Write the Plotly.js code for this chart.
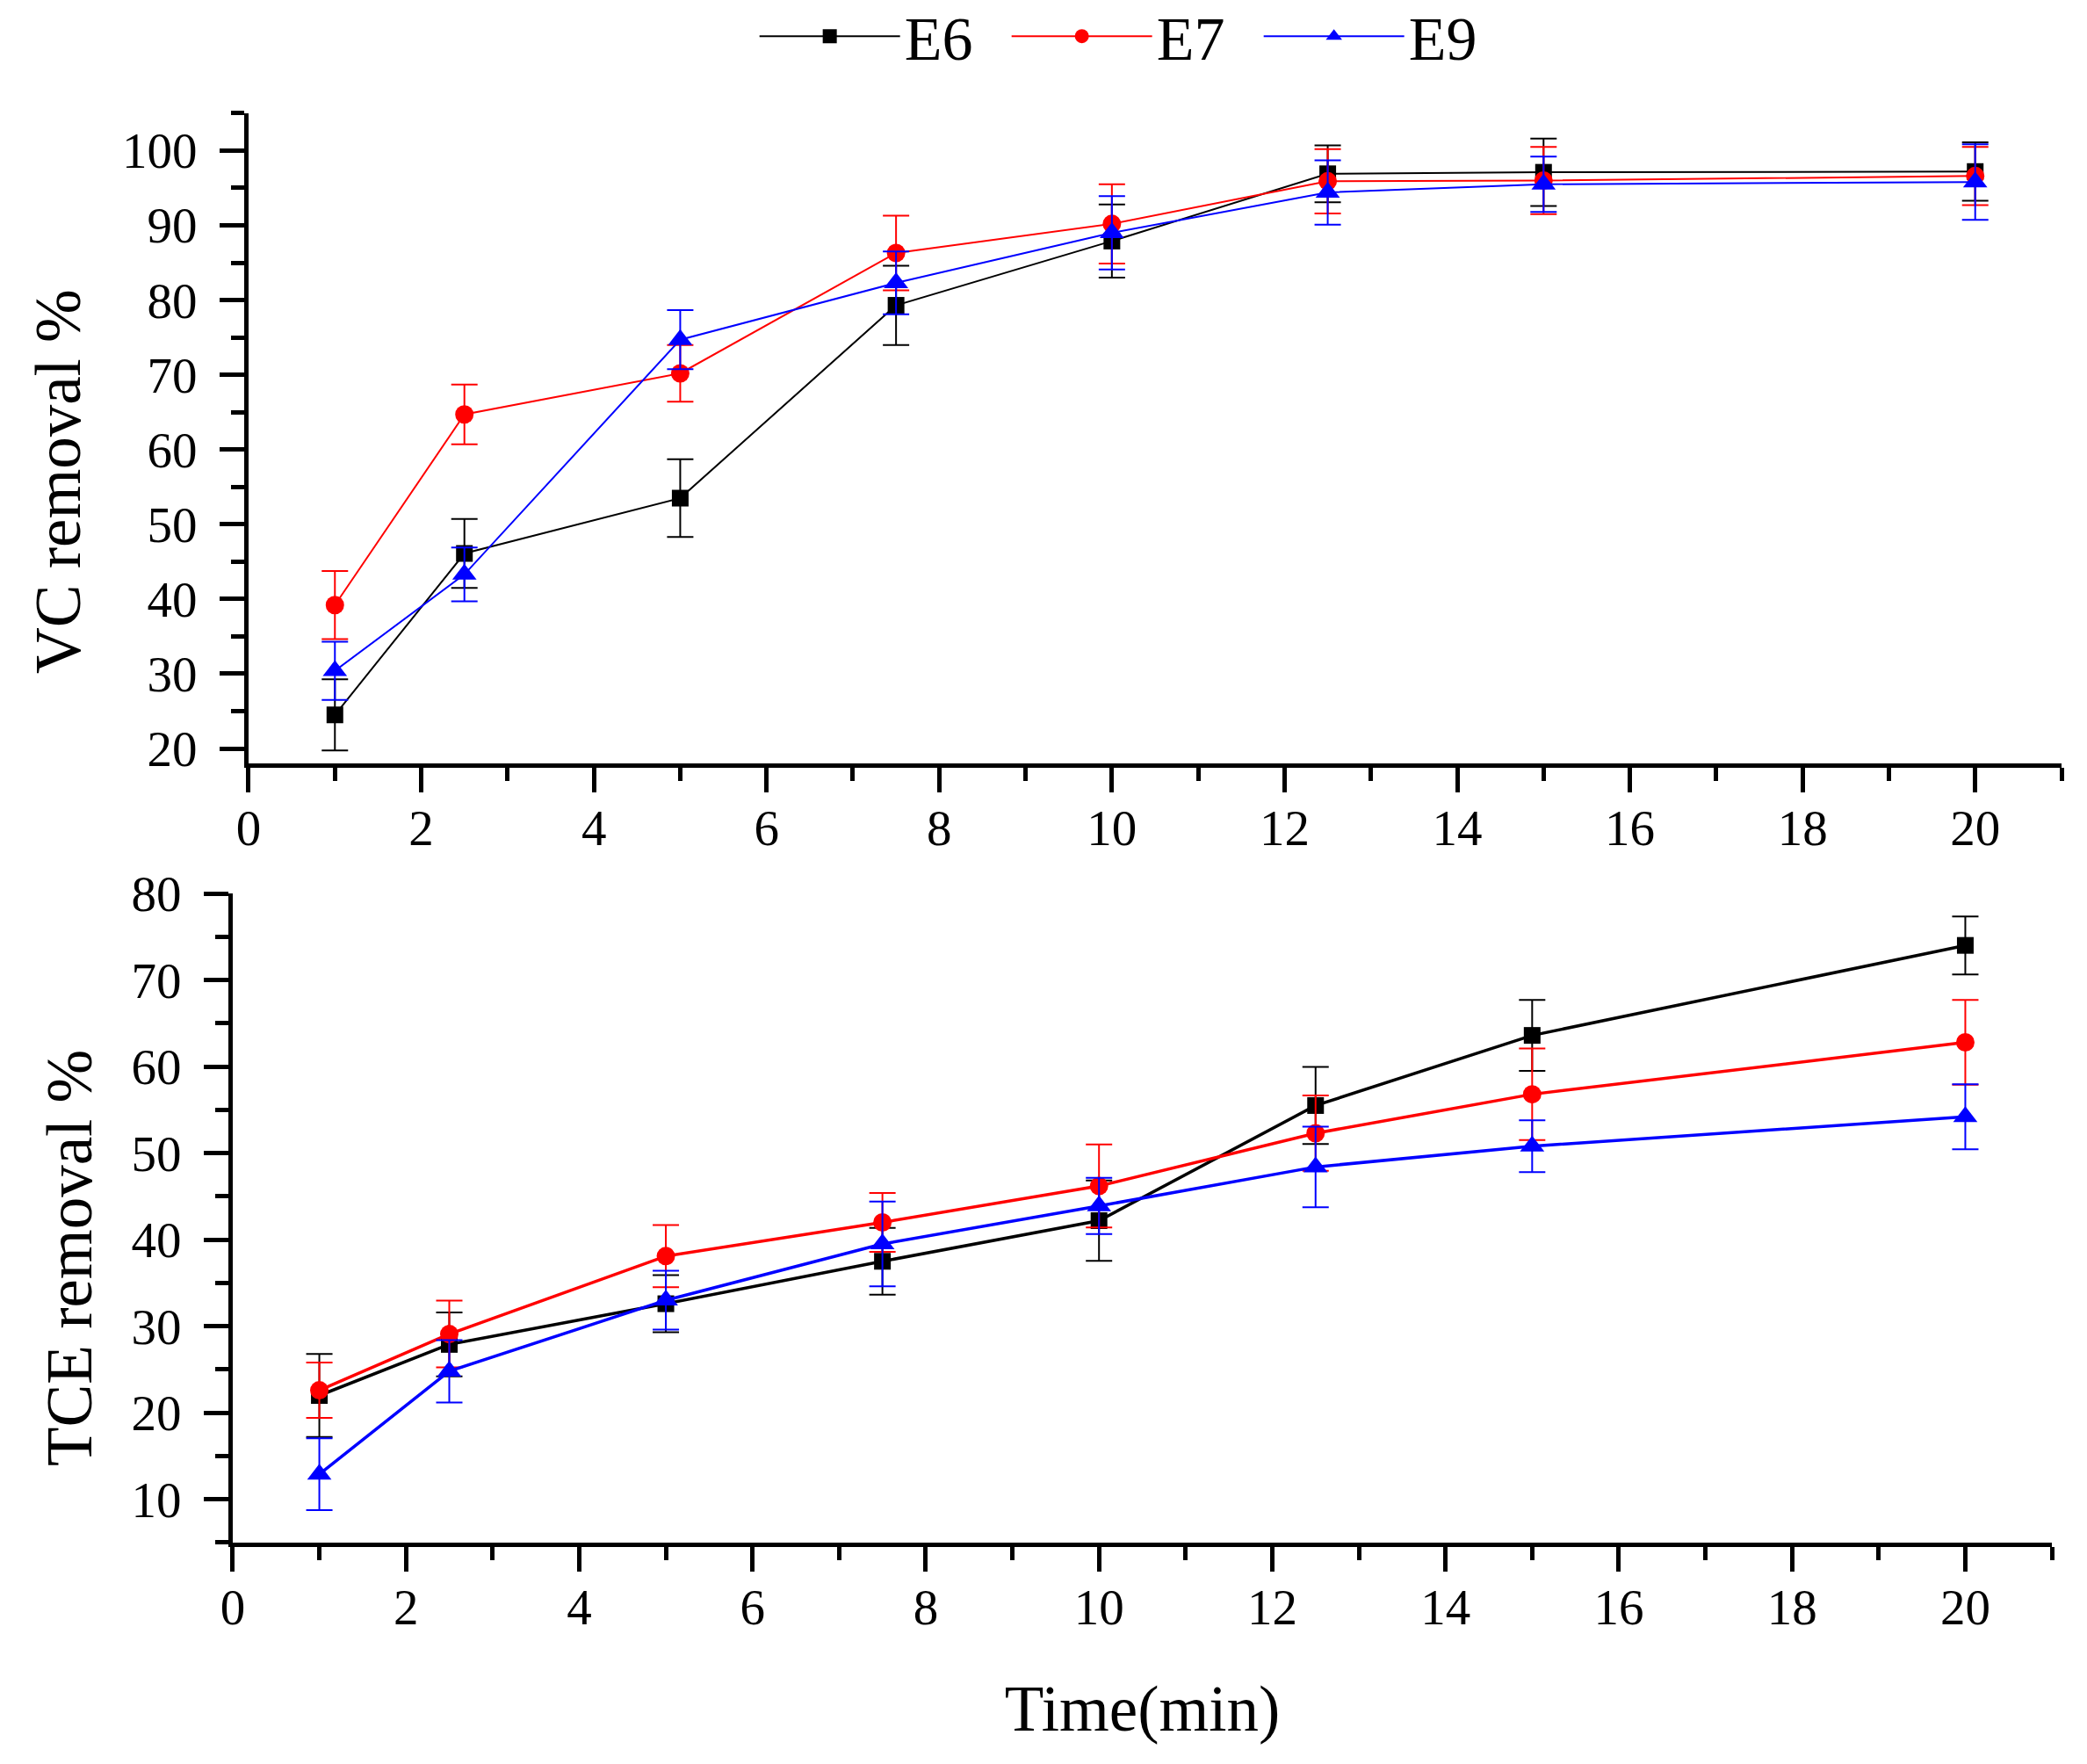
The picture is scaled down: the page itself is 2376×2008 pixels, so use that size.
<!DOCTYPE html>
<html>
<head>
<meta charset="utf-8">
<script src="https://cdn.plot.ly/plotly-3.0.1.min.js"></script>
<style>
  html, body { margin: 0; padding: 0; background: #fff; }
  #chart { width: 2376px; height: 2008px; }
</style>
</head>
<body>
<div id="chart"></div>
<script>
// sampling times (min)
var time = [1, 2.5, 5, 7.5, 10, 12.5, 15, 20];

// VC removal %
var vcE6 = [24.5, 46.1, 53.5, 79.3, 87.9, 96.9, 97.1, 97.2];
var vcE6Err = [4.75, 4.6, 5.2, 5.3, 4.9, 3.8, 4.5, 3.9];
var vcE7 = [39.2, 64.7, 70.2, 86.3, 90.2, 95.9, 96.0, 96.6];
var vcE7Err = [4.55, 4.0, 3.8, 5.0, 5.3, 4.3, 4.5, 3.9];
var vcE9 = [30.4, 43.3, 74.7, 82.3, 89.0, 94.4, 95.5, 95.8];
var vcE9Err = [3.9, 3.6, 3.95, 4.2, 4.9, 4.3, 3.7, 5.05];

// TCE removal %
var tceE6 = [22.0, 27.9, 32.6, 37.5, 42.2, 55.5, 63.6, 74.0];
var tceE6Err = [4.8, 3.7, 3.3, 3.85, 4.65, 4.45, 4.1, 3.35];
var tceE7 = [22.6, 29.1, 38.1, 42.0, 46.2, 52.3, 56.8, 62.8];
var tceE7Err = [3.2, 3.85, 3.6, 3.4, 4.8, 4.35, 5.3, 4.9];
var tceE9 = [12.9, 24.8, 33.0, 39.5, 43.9, 48.4, 50.8, 54.2];
var tceE9Err = [4.15, 3.6, 3.4, 4.9, 3.25, 4.65, 3.0, 3.75];

var names = ['E6', 'E7', 'E9'];
var colors = ['#000000', '#ff0000', '#0000ff'];
var symbols = ['square', 'circle', 'triangle-up'];
var sizes = [19, 21, 24];

var FONT = '"Liberation Serif", serif';

function series(i, y, err, xa, ya, lw, legend) {
  return {
    x: time, y: y,
    xaxis: xa, yaxis: ya,
    name: names[i],
    mode: 'lines+markers',
    showlegend: legend,
    line: {color: colors[i], width: lw},
    marker: {symbol: symbols[i], size: sizes[i], color: colors[i]},
    error_y: {type: 'data', array: err, visible: true,
              color: colors[i], thickness: 2, width: 15}
  };
}

var data = [
  series(0, vcE6, vcE6Err, 'x', 'y', 2, true),
  series(1, vcE7, vcE7Err, 'x', 'y', 2, true),
  series(2, vcE9, vcE9Err, 'x', 'y', 2, true),
  series(0, tceE6, tceE6Err, 'x2', 'y2', 3.5, false),
  series(1, tceE7, tceE7Err, 'x2', 'y2', 3.5, false),
  series(2, tceE9, tceE9Err, 'x2', 'y2', 3.5, false)
];

function axis(extra) {
  var a = {
    showline: true, linewidth: 5, linecolor: '#000',
    showgrid: false, zeroline: false,
    ticks: 'outside', ticklen: 28, tickwidth: 5, tickcolor: '#000',
    tickfont: {family: FONT, size: 57, color: '#000'}
  };
  for (var k in extra) a[k] = extra[k];
  return a;
}

function minor(step) {
  return {ticks: 'outside', ticklen: 15, tickwidth: 5, tickcolor: '#000', dtick: step, showgrid: false};
}

var layout = {
  width: 2376, height: 2008,
  margin: {l: 0, r: 0, t: 0, b: 0, autoexpand: false},
  paper_bgcolor: '#fff', plot_bgcolor: '#fff',
  font: {family: FONT, color: '#000'},
  showlegend: true,
  legend: {
    orientation: 'h', x: 0.543, y: 0.9795, xanchor: 'center', yanchor: 'middle',
    font: {family: FONT, size: 70, color: '#000'},
    itemwidth: 160, entrywidth: 112, entrywidthmode: 'pixels',
    bgcolor: 'rgba(0,0,0,0)'
  },
  xaxis: axis({domain: [0.1191, 0.9878], range: [0, 21], dtick: 2, tick0: 0,
               minor: minor(1), anchor: 'y', ticklabelstandoff: -8}),
  yaxis: axis({domain: [0.5672, 0.9358], range: [18, 105], dtick: 10, tick0: 0,
               minor: minor(5), anchor: 'x', ticklabelstandoff: 14}),
  xaxis2: axis({domain: [0.1115, 0.9832], range: [0, 21], dtick: 2, tick0: 0,
                minor: minor(1), anchor: 'y2', ticklabelstandoff: -8,
                title: {text: 'Time(min)', font: {family: FONT, size: 73, color: '#000'}, standoff: 60}}),
  yaxis2: axis({domain: [0.1255, 0.4935], range: [5, 80], dtick: 10, tick0: 0,
                minor: minor(5), anchor: 'x2', ticklabelstandoff: 14}),
  annotations: [
    {text: 'VC removal %', xref: 'paper', yref: 'paper', x: 0.0282, y: 0.7271,
     xanchor: 'center', yanchor: 'middle', textangle: -90, showarrow: false,
     font: {family: FONT, size: 73, color: '#000'}},
    {text: 'TCE removal %', xref: 'paper', yref: 'paper', x: 0.0337, y: 0.2869,
     xanchor: 'center', yanchor: 'middle', textangle: -90, showarrow: false,
     font: {family: FONT, size: 73, color: '#000'}}
  ]
};

Plotly.newPlot('chart', data, layout, {displayModeBar: false, responsive: false});
</script>
</body>
</html>
